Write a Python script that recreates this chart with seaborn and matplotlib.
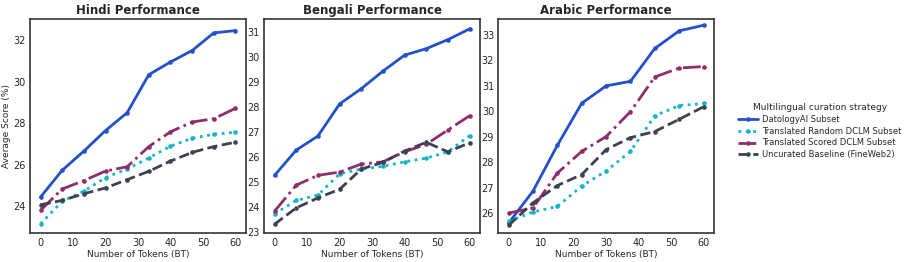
import numpy as np
import pandas as pd
import seaborn as sns
import matplotlib
matplotlib.use("Agg")
import matplotlib.pyplot as plt

# token counts (BT) per language
hindi_x = [0, 6.67, 13.33, 20, 26.67, 33.33, 40, 46.67, 53.33, 60]
bengali_x = [0, 6.67, 13.33, 20, 26.67, 33.33, 40, 46.67, 53.33, 60]
arabic_x = [0, 7.5, 15, 22.5, 30, 37.5, 45, 52.5, 60]

strategies = ["DatologyAI Subset", "Translated Random DCLM Subset",
              "Translated Scored DCLM Subset", "Uncurated Baseline (FineWeb2)"]

hindi_datology = [24.45, 25.74, 26.66, 27.65, 28.51, 30.34, 30.95, 31.5, 32.35, 32.46]
hindi_random = [23.16, 24.25, 24.73, 25.39, 25.8, 26.33, 26.9, 27.28, 27.47, 27.57]
hindi_scored = [23.81, 24.84, 25.24, 25.7, 25.91, 26.88, 27.59, 28.06, 28.22, 28.72]
hindi_base = [24.08, 24.29, 24.61, 24.89, 25.29, 25.69, 26.18, 26.6, 26.88, 27.09]

bengali_datology = [25.27, 26.28, 26.84, 28.12, 28.73, 29.43, 30.07, 30.33, 30.69, 31.12]
bengali_random = [23.73, 24.27, 24.48, 25.33, 25.52, 25.63, 25.81, 25.96, 26.21, 26.85]
bengali_scored = [23.84, 24.88, 25.27, 25.4, 25.72, 25.81, 26.21, 26.51, 27.08, 27.65]
bengali_base = [23.32, 23.97, 24.37, 24.71, 25.52, 25.79, 26.24, 26.59, 26.21, 26.57]

arabic_datology = [25.61, 26.86, 28.66, 30.31, 30.99, 31.17, 32.46, 33.15, 33.37]
arabic_random = [25.68, 26.04, 26.26, 27.06, 27.65, 28.42, 29.82, 30.22, 30.3]
arabic_scored = [26.0, 26.2, 27.57, 28.42, 29.0, 29.98, 31.34, 31.69, 31.75]
arabic_base = [25.52, 26.4, 27.08, 27.51, 28.49, 28.96, 29.2, 29.68, 30.17]

colors = ["#2150C8", "#12B5C5", "#8E2C6C", "#3B4250"]
styles = ["-", ":", "-.", "--"]

panels = [
    ("Hindi Performance", hindi_x, [hindi_datology, hindi_random, hindi_scored, hindi_base], [24, 26, 28, 30, 32]),
    ("Bengali Performance", bengali_x, [bengali_datology, bengali_random, bengali_scored, bengali_base], list(range(23, 32))),
    ("Arabic Performance", arabic_x, [arabic_datology, arabic_random, arabic_scored, arabic_base], list(range(26, 34))),
]

sns.set_style("white")
plt.rcParams["font.family"] = ["DejaVu Sans"]

fig, axes = plt.subplots(1, 3, figsize=(9.13, 2.62), dpi=100)
fig.subplots_adjust(left=0.033, right=0.782, top=0.926, bottom=0.109, wspace=0.085)

for ax, (title, xs, series, yt) in zip(axes, panels):
    for name, vals, c, ls in zip(strategies, series, colors, styles):
        sns.lineplot(x=xs, y=vals, ax=ax, color=c, linestyle=ls, linewidth=2,
                     marker="o", markersize=3.3, markeredgewidth=0, label=name)
    ax.set_title(title, fontsize=8.5, fontweight="bold", pad=4)
    ax.set_xticks([0, 10, 20, 30, 40, 50, 60])
    ax.set_yticks(yt)
    ax.tick_params(labelsize=7, length=0, pad=3)
    ax.set_xlabel("Number of Tokens (BT)", fontsize=6.5, labelpad=2)
    ax.set_xlim(-3.2, 63.2)
    for s in ax.spines.values():
        s.set_color("#333333")
        s.set_linewidth(1.2)
    ax.get_legend().remove()

axes[0].set_ylabel("Average Score (%)", fontsize=6.5, labelpad=2)
axes[0].set_ylim(22.7, 33.0)
axes[1].set_ylim(22.95, 31.5)
axes[2].set_ylim(25.2, 33.6)

handles, labels = axes[0].get_legend_handles_labels()
fig.legend(handles, labels, title="Multilingual curation strategy", loc="center left",
           bbox_to_anchor=(0.8, 0.5), frameon=False, fontsize=6, title_fontsize=6.5,
           handlelength=2.4, handletextpad=0.5, labelspacing=0.35)

fig.savefig("out.png", dpi=100)
